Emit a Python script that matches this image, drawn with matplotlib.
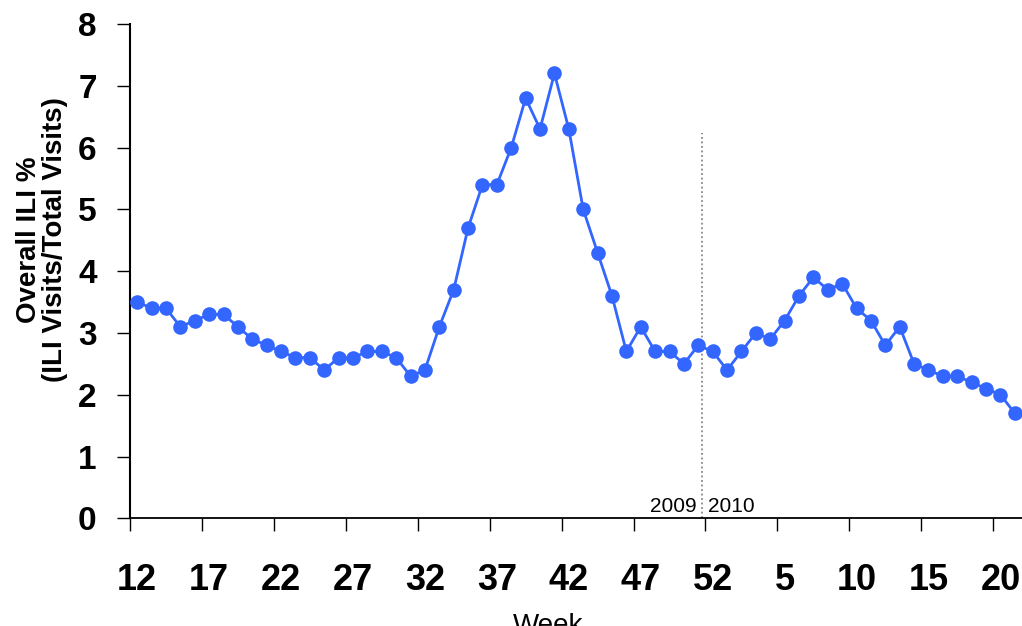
import matplotlib
matplotlib.use('Agg')
import matplotlib.pyplot as plt
import matplotlib.ticker as mticker

plt.rcParams['font.family'] = ['Liberation Sans', 'DejaVu Sans']

# week numbers (categories)
weeks_2009 = list(range(12, 53))
weeks_2010 = list(range(1, 22))

# overall ILI %
ili_2009 = [3.5, 3.4, 3.4, 3.1, 3.2, 3.3, 3.3, 3.1, 2.9, 2.8,
            2.7, 2.6, 2.6, 2.4, 2.6, 2.6, 2.7, 2.7, 2.6, 2.3,
            2.4, 3.1, 3.7, 4.7, 5.4, 5.4, 6.0, 6.8, 6.3, 7.2,
            6.3, 5.0, 4.3, 3.6, 2.7, 3.1, 2.7, 2.7, 2.5, 2.8,
            2.7]
ili_2010 = [2.4, 2.7, 3.0, 2.9, 3.2, 3.6, 3.9, 3.7, 3.8, 3.4,
            3.2, 2.8, 3.1, 2.5, 2.4, 2.3, 2.3, 2.2, 2.1, 2.0,
            1.7]

weeks = weeks_2009 + weeks_2010
ili = ili_2009 + ili_2010
idx = list(range(len(weeks)))

fig = plt.figure(figsize=[10.22, 6.26], dpi=100)
ax = fig.add_axes([130/1022, 107.7/626, 892/1022, 494.3/626])

ax.plot(idx, ili, color='#3366ff', linewidth=2.0, marker='o',
        markersize=10.5, markeredgewidth=0, zorder=3, clip_on=False)

# year break
ax.axvline(x=39.25, ymin=0, ymax=(518.3-133)/494.3, color='#888888',
           linestyle=(0, (1, 1.5)), linewidth=1.3, zorder=2)
ax.text(38.9, 0.1, '2009', ha='right', va='baseline', fontsize=15)
ax.text(39.65, 0.1, '2010', ha='left', va='baseline', fontsize=15)

ax.set_xlim(-0.5, len(weeks) - 0.5)
ax.set_ylim(0, 8)

# tick marks between categories, labels under every 5th category
ax.xaxis.set_major_locator(mticker.FixedLocator([i - 0.5 for i in idx[::5]]))
ax.xaxis.set_major_formatter(mticker.NullFormatter())
ax.xaxis.set_minor_locator(mticker.FixedLocator(idx[::5]))
ax.xaxis.set_minor_formatter(mticker.FixedFormatter([str(w) for w in weeks[::5]]))
ax.tick_params(axis='x', which='major', direction='out', length=9, width=1.0)
ax.tick_params(axis='x', which='minor', length=0, pad=32, labelsize=26)
for lab in ax.get_xticklabels(minor=True):
    lab.set_fontweight('bold')

ax.yaxis.set_major_locator(mticker.MultipleLocator(1))
ax.tick_params(axis='y', which='major', direction='out', length=9.5, width=1.0,
               pad=14.5, labelsize=24)
for lab in ax.get_yticklabels():
    lab.set_fontweight('bold')

for side in ['top', 'right']:
    ax.spines[side].set_visible(False)
ax.spines['left'].set_linewidth(1.5)
ax.spines['bottom'].set_linewidth(1.3)

fig.text(42/1022, 1 - 240/626, 'Overall ILI %\n(ILI Visits/Total Visits)',
         rotation=90, ha='center', va='center', multialignment='center',
         fontsize=20, fontweight='bold', linespacing=1.05)
fig.text(548/1022, 1 - 613/626, 'Week', ha='center', va='top', fontsize=20)

fig.savefig('out.png', dpi=100)
